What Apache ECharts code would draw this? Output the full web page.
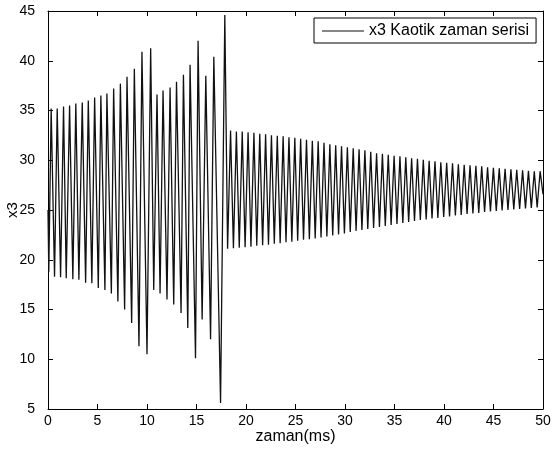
<!DOCTYPE html>
<html>
<head>
<meta charset="utf-8">
<script src="https://cdn.jsdelivr.net/npm/echarts@6/dist/echarts.min.js"></script>
<style>
html,body{margin:0;padding:0;background:#fff;}
#chart{width:552px;height:457px;}
</style>
</head>
<body>
<div id="chart"></div>
<script>
// Burst phase (0 - 17.9 ms): alternating trough/peak extremes
const burstTimes = [0, 0.08, 0.32, 0.66, 0.93, 1.27, 1.57, 1.84, 2.18, 2.51, 2.81, 3.12, 3.46, 3.80, 4.07, 4.43, 4.71, 5.08, 5.34, 5.75, 5.95, 6.40, 6.63, 7.06, 7.31, 7.74, 7.98, 8.45, 8.72, 9.19, 9.49, 10.0, 10.37, 10.68, 11.01, 11.32, 11.62, 12.02, 12.33, 12.70, 12.98, 13.44, 13.68, 14.12, 14.35, 14.90, 15.16, 15.57, 15.94, 16.42, 16.75, 17.43, 17.86];
const burstValues = [25, 18.8, 35.2, 18.3, 35.2, 18.25, 35.4, 18.15, 35.5, 18.05, 35.7, 18.0, 35.8, 17.7, 36.0, 17.65, 36.3, 17.15, 36.5, 16.95, 36.7, 16.6, 37.2, 15.8, 37.7, 15.0, 38.4, 13.65, 39.2, 11.3, 40.9, 10.5, 41.25, 16.95, 36.6, 16.6, 37.0, 16.0, 37.3, 15.5, 37.9, 14.65, 38.6, 13.15, 39.6, 10.1, 42.0, 14.0, 38.5, 12.0, 40.4, 5.6, 44.6];

// Decay phase (18 - 50 ms): troughs and peaks
const decayTroughTimes = [18.14, 18.73, 19.32, 19.91, 20.50, 21.09, 21.68, 22.27, 22.86, 23.45, 24.04, 24.63, 25.22, 25.81, 26.40, 26.99, 27.58, 28.17, 28.76, 29.35, 29.94, 30.53, 31.12, 31.71, 32.30, 32.89, 33.48, 34.07, 34.66, 35.25, 35.84, 36.43, 37.02, 37.61, 38.20, 38.79, 39.38, 39.97, 40.56, 41.15, 41.74, 42.33, 42.92, 43.51, 44.10, 44.69, 45.28, 45.87, 46.46, 47.05, 47.64, 48.23, 48.82, 49.41];
const decayTroughValues = [21.1, 21.15, 21.2, 21.25, 21.3, 21.4, 21.45, 21.5, 21.6, 21.65, 21.75, 21.8, 21.9, 22.0, 22.05, 22.15, 22.25, 22.35, 22.45, 22.55, 22.65, 22.8, 22.9, 23.0, 23.1, 23.2, 23.3, 23.4, 23.5, 23.6, 23.7, 23.8, 23.9, 24.0, 24.05, 24.15, 24.2, 24.3, 24.35, 24.45, 24.5, 24.6, 24.65, 24.7, 24.8, 24.85, 24.9, 24.95, 25.0, 25.05, 25.1, 25.15, 25.2, 25.25];
const decayPeakTimes = [18.44, 19.03, 19.62, 20.21, 20.80, 21.39, 21.98, 22.57, 23.16, 23.75, 24.34, 24.93, 25.52, 26.11, 26.70, 27.29, 27.88, 28.47, 29.06, 29.65, 30.24, 30.83, 31.42, 32.01, 32.60, 33.19, 33.78, 34.37, 34.96, 35.55, 36.14, 36.73, 37.32, 37.91, 38.50, 39.09, 39.68, 40.27, 40.86, 41.45, 42.04, 42.63, 43.22, 43.81, 44.40, 44.99, 45.58, 46.17, 46.76, 47.35, 47.94, 48.53, 49.12, 49.71];
const decayPeakValues = [33.0, 32.9, 32.9, 32.8, 32.75, 32.65, 32.6, 32.5, 32.45, 32.4, 32.3, 32.25, 32.15, 32.05, 31.95, 31.9, 31.75, 31.6, 31.5, 31.4, 31.3, 31.2, 31.1, 31.0, 30.85, 30.7, 30.65, 30.55, 30.45, 30.4, 30.3, 30.2, 30.15, 30.05, 29.95, 29.9, 29.8, 29.75, 29.7, 29.6, 29.55, 29.5, 29.45, 29.4, 29.3, 29.25, 29.2, 29.15, 29.1, 29.05, 29.0, 28.95, 28.9, 28.9];
const endTime = 50;
const endValue = 26.6;

const xTicks = [0, 5, 10, 15, 20, 25, 30, 35, 40, 45, 50];
const yTicks = [5, 10, 15, 20, 25, 30, 35, 40, 45];
const seriesName = 'x3 Kaotik zaman serisi';
const xName = 'zaman(ms)';
const yName = 'x3';

const data = [];
for (let i = 0; i < burstTimes.length; i++) data.push([burstTimes[i], burstValues[i]]);
for (let i = 0; i < decayPeakTimes.length; i++) {
  data.push([decayTroughTimes[i], decayTroughValues[i]]);
  data.push([decayPeakTimes[i], decayPeakValues[i]]);
}
data.push([endTime, endValue]);

const font = 'Liberation Sans, Arial, Helvetica, sans-serif';
const chart = echarts.init(document.getElementById('chart'), null, {renderer: 'canvas'});
const axisCommon = {
  axisLine: {show: true, onZero: false, lineStyle: {color: '#000', width: 1}},
  axisTick: {show: true, inside: true, length: 5, lineStyle: {color: '#000'}},
  splitLine: {show: false}
};
chart.setOption({
  animation: false,
  backgroundColor: '#fff',
  grid: {left: 48, right: 9, top: 11, bottom: 48, show: false, containLabel: false, outerBoundsMode: 'none'},
  legend: {
    data: [seriesName],
    left: 314, top: 18,
    padding: [5, 7, 4, 8],
    icon: 'rect',
    itemWidth: 42, itemHeight: 1,
    borderColor: '#000', borderWidth: 1,
    backgroundColor: '#fff',
    textStyle: {fontFamily: font, fontSize: 16, color: '#000'}
  },
  xAxis: [
    Object.assign({type: 'value', min: xTicks[0], max: xTicks[xTicks.length-1], interval: 5, position: 'bottom',
      name: xName, nameLocation: 'middle', nameGap: 20, nameMoveOverlap: false,
      nameTextStyle: {fontFamily: font, fontSize: 16, color: '#000'},
      axisLabel: {fontFamily: font, fontSize: 14, color: '#000', margin: 5}}, axisCommon),
    Object.assign({type: 'value', min: xTicks[0], max: xTicks[xTicks.length-1], interval: 5, position: 'top',
      axisLabel: {show: false}}, axisCommon)
  ],
  yAxis: [
    Object.assign({type: 'value', min: yTicks[0], max: yTicks[yTicks.length-1], interval: 5, position: 'left',
      name: yName, nameLocation: 'middle', nameGap: 28, nameRotate: 90, nameMoveOverlap: false,
      nameTextStyle: {fontFamily: font, fontSize: 15, color: '#000'},
      axisLabel: {fontFamily: font, fontSize: 14, color: '#000', margin: 13}}, axisCommon),
    Object.assign({type: 'value', min: yTicks[0], max: yTicks[yTicks.length-1], interval: 5, position: 'right',
      axisLabel: {show: false}}, axisCommon)
  ],
  series: [{
    name: seriesName,
    type: 'line',
    xAxisIndex: 0, yAxisIndex: 0,
    data: data,
    symbol: 'none',
    lineStyle: {color: '#111', width: 1.3},
    itemStyle: {color: '#111'}
  }]
});
</script>
</body>
</html>
